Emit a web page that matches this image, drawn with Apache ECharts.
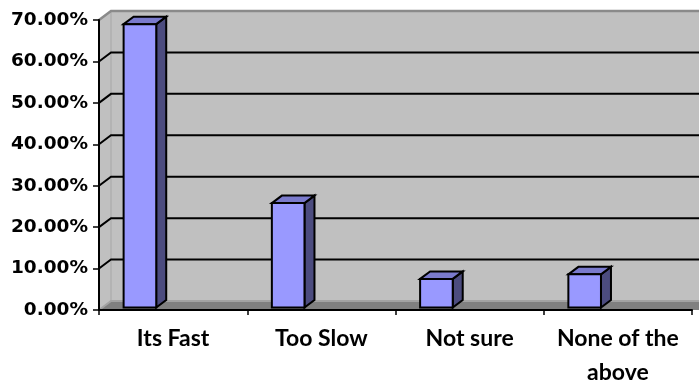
<!DOCTYPE html>
<html>
<head>
<meta charset="utf-8">
<script src="https://cdn.jsdelivr.net/npm/echarts@6/dist/echarts.min.js"></script>
<style>
  html, body { margin: 0; padding: 0; background: #ffffff; }
  #chart { width: 699px; height: 384px; }
</style>
</head>
<body>
<div id="chart"></div>
<script>
// Survey answers and their share of respondents (percent)
const categories = ['Its Fast', 'Too Slow', 'Not sure', 'None of the\nabove'];
const shares = [68.4, 25.2, 6.9, 8.0];

// Value axis range and gridline values
const yMin = 0;
const yMax = 70;
const yStep = 10;
const gridValues = [10, 20, 30, 40, 50, 60];

// Pseudo-3D depth of the plot box and of the columns, in pixels
const WALL_DX = 12, WALL_DY = -9;
const BAR_DX = 10, BAR_DY = -7.5;
const BAR_SHIFT_Y = -2.5;

const chart = echarts.init(document.getElementById('chart'), null, { renderer: 'canvas' });

// Back wall, side wall, floor and their gridlines
function renderWalls(params, api) {
  const cs = params.coordSys;
  const x0 = cs.x;
  const x1 = cs.x + cs.width;
  const yAt = v => api.coord([0, v])[1];
  const yTop = yAt(yMax);
  const yBot = yAt(yMin);
  const children = [];

  children.push({
    type: 'rect',
    shape: { x: x0 + WALL_DX, y: yTop + WALL_DY, width: cs.width + 20, height: yBot - yTop },
    style: { fill: '#c0c0c0' }
  });
  children.push({
    type: 'polygon',
    shape: { points: [[x0, yTop], [x0 + WALL_DX, yTop + WALL_DY], [x0 + WALL_DX, yBot + WALL_DY], [x0, yBot]] },
    style: { fill: '#c0c0c0' }
  });
  // corner between side and back wall
  children.push({
    type: 'line',
    shape: { x1: x0 + WALL_DX, y1: yTop + WALL_DY, x2: x0 + WALL_DX, y2: yBot + WALL_DY },
    style: { stroke: '#a6a6a6', lineWidth: 1 }
  });
  gridValues.forEach(v => {
    const y = yAt(v);
    children.push({
      type: 'polyline',
      shape: { points: [[x0, y], [x0 + WALL_DX, y + WALL_DY], [x1 + WALL_DX + 20, y + WALL_DY]] },
      style: { stroke: '#000000', lineWidth: 2, fill: null }
    });
  });
  // top edge of the walls
  children.push({
    type: 'polyline',
    shape: { points: [[x0, yTop], [x0 + WALL_DX, yTop + WALL_DY], [x1 + WALL_DX + 20, yTop + WALL_DY]] },
    style: { stroke: '#8a8a8a', lineWidth: 2.5, fill: null }
  });
  // floor
  children.push({
    type: 'polygon',
    shape: { points: [[x0, yBot], [x0 + WALL_DX, yBot + WALL_DY], [x1 + WALL_DX + 20, yBot + WALL_DY], [x1 + 20, yBot]] },
    style: { fill: '#808080' }
  });
  children.push({
    type: 'polyline',
    shape: { points: [[x0, yBot], [x0 + WALL_DX, yBot + WALL_DY], [x1 + WALL_DX + 20, yBot + WALL_DY]] },
    style: { stroke: '#a3a3a3', lineWidth: 2, fill: null }
  });
  return { type: 'group', children: children };
}

// A column drawn as front, top and side faces
function renderBar(params, api) {
  const i = api.value(0);
  const v = api.value(1);
  const band = api.size([1, 0])[0];
  const base = api.coord([i, yMin]);
  const top = api.coord([i, v]);
  const xl = base[0] - band * 0.334;
  const xr = xl + band * 0.22;
  const yb = base[1] + BAR_SHIFT_Y;
  const yt = top[1] + BAR_SHIFT_Y;
  const edge = { stroke: '#000000', lineWidth: 2, lineJoin: 'miter' };
  return {
    type: 'group',
    children: [
      {
        type: 'polygon',
        shape: { points: [[xr, yt], [xr + BAR_DX, yt + BAR_DY], [xr + BAR_DX, yb + BAR_DY], [xr, yb]] },
        style: Object.assign({ fill: '#4c4c7f' }, edge)
      },
      {
        type: 'polygon',
        shape: { points: [[xl, yt], [xl + BAR_DX, yt + BAR_DY], [xr + BAR_DX, yt + BAR_DY], [xr, yt]] },
        style: Object.assign({ fill: '#7a7acc' }, edge)
      },
      {
        type: 'polygon',
        shape: { points: [[xl, yt], [xr, yt], [xr, yb], [xl, yb]] },
        style: Object.assign({ fill: '#9999ff' }, edge)
      }
    ]
  };
}

const option = {
  backgroundColor: '#ffffff',
  animation: false,
  grid: { left: 99, right: 7, top: 20, bottom: 74, containLabel: false, outerBoundsMode: 'none' },
  xAxis: {
    type: 'category',
    data: categories,
    boundaryGap: true,
    z: 10,
    axisLine: { show: true, lineStyle: { color: '#000000', width: 2 } },
    axisTick: { show: true, alignWithLabel: false, length: 5, lineStyle: { color: '#000000', width: 1.5 } },
    splitLine: { show: false },
    axisLabel: {
      interval: 0,
      margin: 12,
      color: '#000000',
      fontFamily: 'Lato',
      fontWeight: 'bold',
      fontSize: 23,
      lineHeight: 34
    }
  },
  yAxis: {
    type: 'value',
    min: yMin,
    max: yMax,
    interval: yStep,
    z: 10,
    axisLine: { show: true, lineStyle: { color: '#000000', width: 2 } },
    axisTick: { show: true, length: 6, lineStyle: { color: '#000000', width: 1.5 } },
    splitLine: { show: false },
    axisLabel: {
      margin: 11,
      color: '#000000',
      fontFamily: 'DejaVu Sans',
      fontWeight: 'bold',
      fontSize: 18.5,
      formatter: v => v.toFixed(2) + '%'
    }
  },
  series: [
    {
      type: 'custom',
      name: 'walls',
      silent: true,
      z: 1,
      clip: false,
      renderItem: renderWalls,
      data: [[0, yMin]],
      encode: { x: 0, y: 1 }
    },
    {
      type: 'custom',
      name: 'share',
      z: 3,
      clip: false,
      renderItem: renderBar,
      data: shares.map((v, i) => [i, v]),
      encode: { x: 0, y: 1 }
    }
  ]
};

chart.setOption(option);
</script>
</body>
</html>
